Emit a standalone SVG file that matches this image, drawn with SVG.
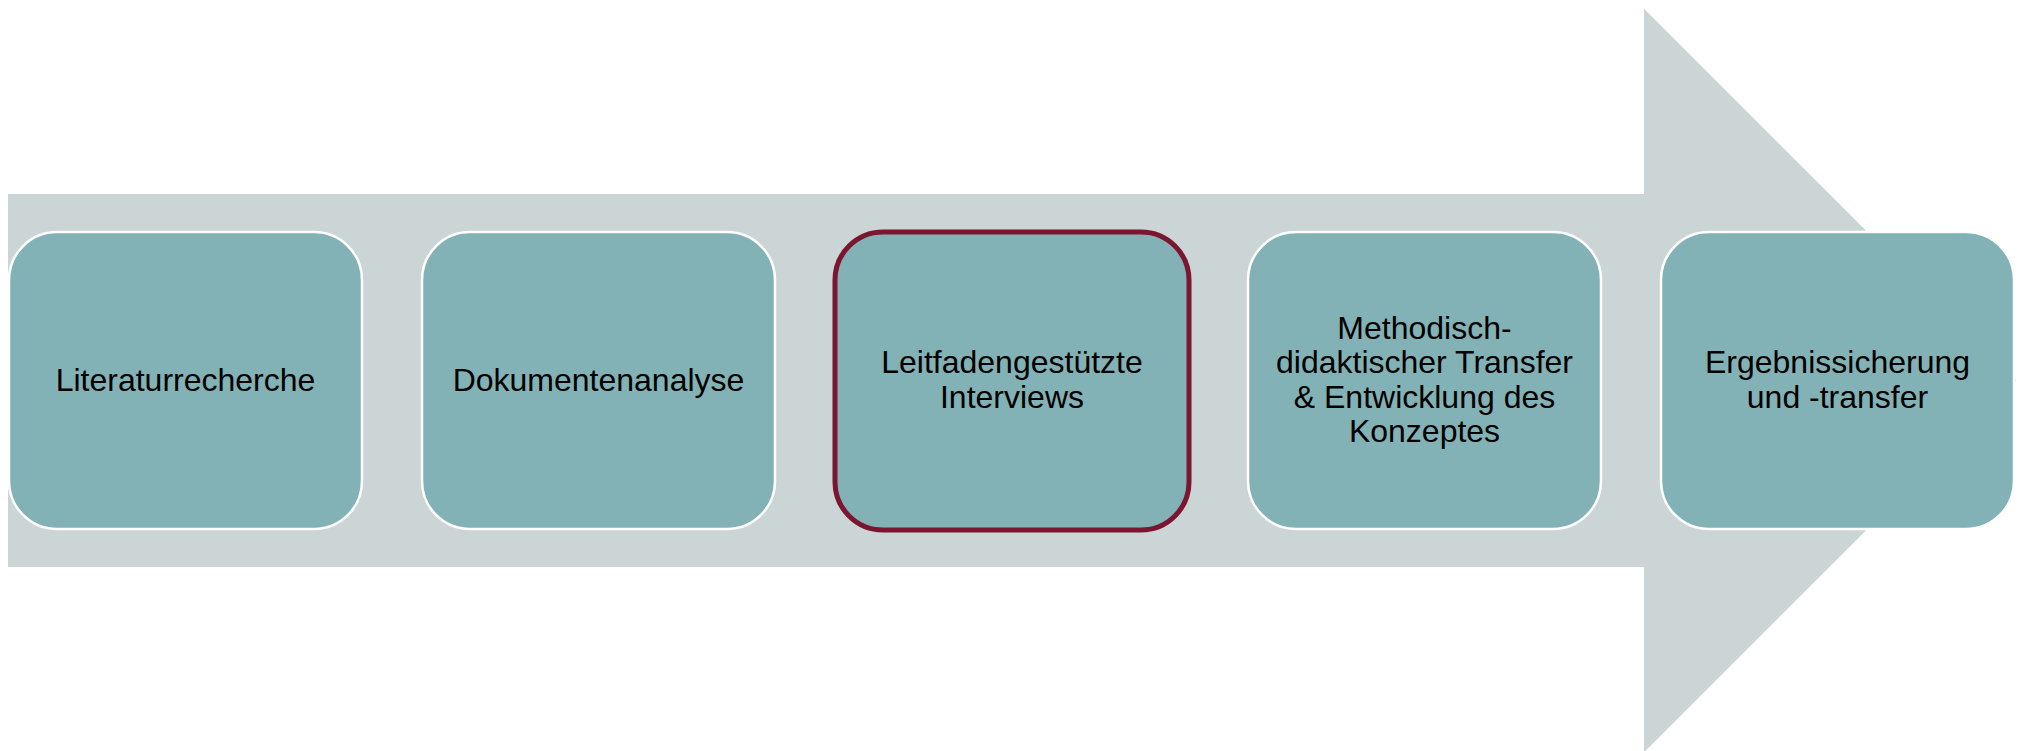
<svg xmlns="http://www.w3.org/2000/svg" width="2022" height="751" viewBox="0 0 2022 751">
<style>
.box{fill:#82B2B5;stroke:#FFFFFF;stroke-width:2.5}
.hl{stroke:#7B1530;stroke-width:5}
.lbl{font-family:"Liberation Sans",Arial,sans-serif;font-size:32px;fill:#000000;text-anchor:middle}
</style>
<rect width="2022" height="751" fill="#FFFFFF"/>
<g id="arrow">
<polygon points="8,194 1644,194 1644,8.7 2016,380.5 1644,752.3 1644,567 8,567" fill="#CBD5D6"/>
</g>
<g id="connectors"></g>
<g id="n1">
<rect class="box" x="9" y="232" width="353" height="297" rx="48" ry="48"/>
<text class="lbl" x="185.5" y="391">Literaturrecherche</text>
</g>
<g id="n2">
<rect class="box" x="422" y="232" width="353" height="297" rx="48" ry="48"/>
<text class="lbl" x="598.5" y="391">Dokumentenanalyse</text>
</g>
<g id="n3">
<rect class="box hl" x="835" y="232" width="354" height="298" rx="48" ry="48"/>
<text class="lbl" x="1012" y="373.3">Leitfadengestützte</text>
<text class="lbl" x="1012" y="407.7">Interviews</text>
</g>
<g id="n4">
<rect class="box" x="1248" y="232" width="353" height="297" rx="48" ry="48"/>
<text class="lbl" x="1424.5" y="339">Methodisch-</text>
<text class="lbl" x="1424.5" y="373.3">didaktischer Transfer</text>
<text class="lbl" x="1424.5" y="407.7">&amp; Entwicklung des</text>
<text class="lbl" x="1424.5" y="442">Konzeptes</text>
</g>
<g id="n5">
<rect class="box" x="1661" y="232" width="353" height="297" rx="48" ry="48"/>
<text class="lbl" x="1837.5" y="373.3">Ergebnissicherung</text>
<text class="lbl" x="1837.5" y="407.7">und -transfer</text>
</g>
</svg>
